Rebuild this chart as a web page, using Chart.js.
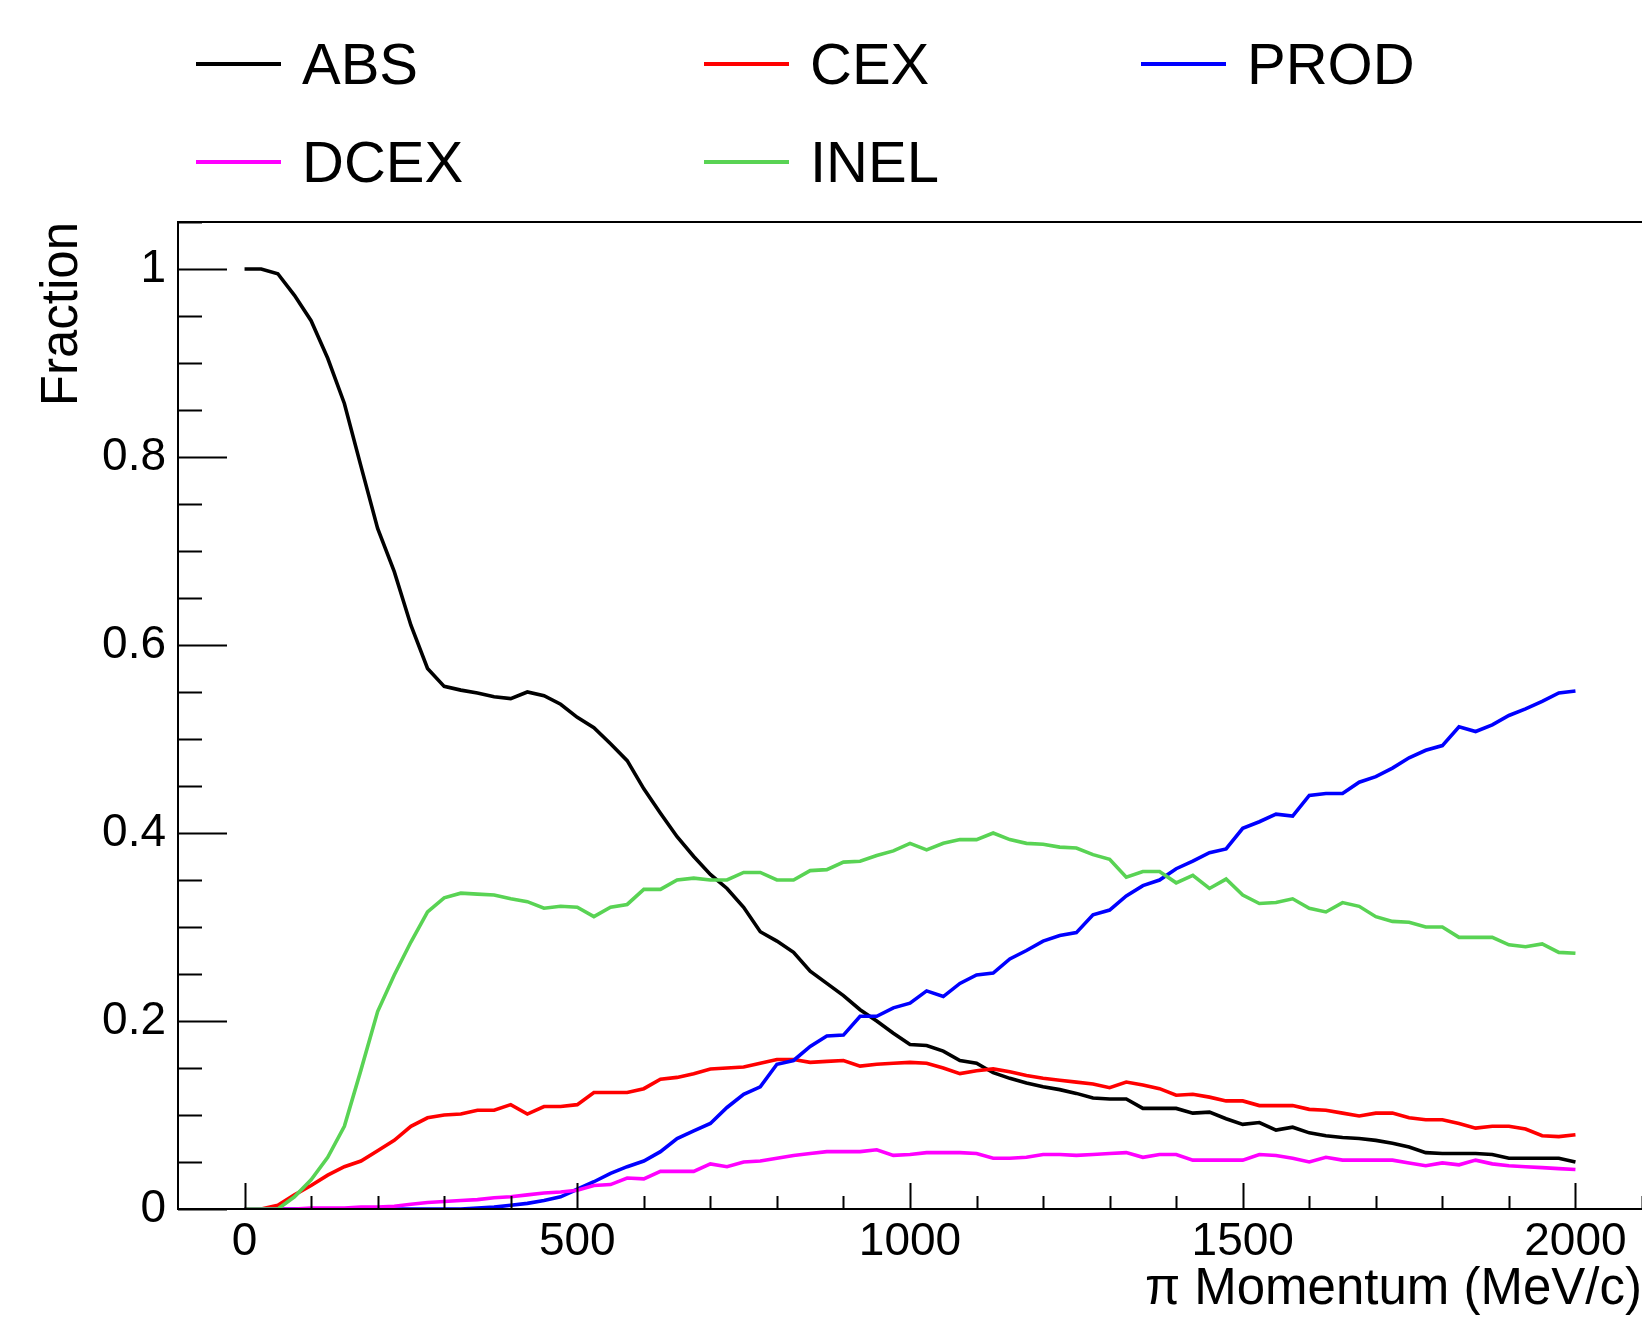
<!DOCTYPE html>
<html>
<head>
<meta charset="utf-8">
<title>Fraction vs pi momentum</title>
<script src="https://cdn.jsdelivr.net/npm/chart.js@4.4.1/dist/chart.umd.min.js"></script>
<style>
  html, body { margin: 0; padding: 0; background: #fff; overflow: hidden; }
  #wrap { position: relative; width: 1642px; height: 1321px; }
  #chart { position: absolute; left: 0; top: 0; }
  .leg-item { position: absolute; height: 58px; display: flex; align-items: center; }
  .leg-line { width: 85px; height: 4px; }
  .leg-text { position: absolute; font-family: "Liberation Sans", Arial, sans-serif; font-size: 58px; line-height: 58px; color: #000; white-space: nowrap; }
</style>
</head>
<body>
<div id="wrap">
  <canvas id="chart" width="1642" height="1321"></canvas>
</div>
<script>
// pi momentum (MeV/c), one point every 25 MeV/c
const momentum = [
  0, 25, 50, 75, 100, 125, 150, 175, 200, 225,
  250, 275, 300, 325, 350, 375, 400, 425, 450, 475,
  500, 525, 550, 575, 600, 625, 650, 675, 700, 725,
  750, 775, 800, 825, 850, 875, 900, 925, 950, 975,
  1000, 1025, 1050, 1075, 1100, 1125, 1150, 1175, 1200, 1225,
  1250, 1275, 1300, 1325, 1350, 1375, 1400, 1425, 1450, 1475,
  1500, 1525, 1550, 1575, 1600, 1625, 1650, 1675, 1700, 1725,
  1750, 1775, 1800, 1825, 1850, 1875, 1900, 1925, 1950, 1975,
  2000
];

const absFrac = [
  1.000, 1.000, 0.995, 0.972, 0.945, 0.905, 0.857, 0.790, 0.724, 0.678,
  0.621, 0.575, 0.556, 0.552, 0.549, 0.545, 0.543, 0.550, 0.546, 0.537,
  0.523, 0.512, 0.495, 0.477, 0.447, 0.421, 0.396, 0.375, 0.356, 0.341,
  0.321, 0.295, 0.285, 0.273, 0.253, 0.240, 0.227, 0.212, 0.200, 0.187,
  0.175, 0.174, 0.168, 0.158, 0.155, 0.145, 0.139, 0.134, 0.130, 0.127,
  0.123, 0.118, 0.117, 0.117, 0.107, 0.107, 0.107, 0.102, 0.103, 0.096,
  0.090, 0.092, 0.084, 0.087, 0.081, 0.078, 0.076, 0.075, 0.073, 0.070,
  0.066, 0.060, 0.059, 0.059, 0.059, 0.058, 0.054, 0.054, 0.054, 0.054,
  0.050
];

const cexFrac = [
  0.000, 0.000, 0.004, 0.015, 0.025, 0.036, 0.045, 0.051, 0.062, 0.073,
  0.088, 0.097, 0.100, 0.101, 0.105, 0.105, 0.111, 0.101, 0.109, 0.109,
  0.111, 0.124, 0.124, 0.124, 0.128, 0.138, 0.140, 0.144, 0.149, 0.150,
  0.151, 0.155, 0.159, 0.159, 0.156, 0.157, 0.158, 0.152, 0.154, 0.155,
  0.156, 0.155, 0.150, 0.144, 0.147, 0.149, 0.146, 0.142, 0.139, 0.137,
  0.135, 0.133, 0.129, 0.135, 0.132, 0.128, 0.121, 0.122, 0.119, 0.115,
  0.115, 0.110, 0.110, 0.110, 0.106, 0.105, 0.102, 0.099, 0.102, 0.102,
  0.097, 0.095, 0.095, 0.091, 0.086, 0.088, 0.088, 0.085, 0.078, 0.077,
  0.079
];

const prodFrac = [
  0.000, 0.000, 0.000, 0.000, 0.000, 0.000, 0.000, 0.000, 0.000, 0.000,
  0.000, 0.000, 0.000, 0.000, 0.001, 0.002, 0.004, 0.006, 0.009, 0.013,
  0.021, 0.029, 0.038, 0.045, 0.051, 0.061, 0.075, 0.083, 0.091, 0.108,
  0.122, 0.130, 0.154, 0.158, 0.173, 0.184, 0.185, 0.205, 0.205, 0.214,
  0.219, 0.232, 0.226, 0.240, 0.249, 0.251, 0.266, 0.275, 0.285, 0.291,
  0.294, 0.313, 0.318, 0.333, 0.344, 0.350, 0.362, 0.370, 0.379, 0.383,
  0.405, 0.412, 0.420, 0.418, 0.440, 0.442, 0.442, 0.454, 0.460, 0.469,
  0.480, 0.488, 0.493, 0.513, 0.508, 0.515, 0.525, 0.532, 0.540, 0.549,
  0.551
];

const dcexFrac = [
  0.000, 0.000, 0.000, 0.000, 0.001, 0.001, 0.001, 0.002, 0.002, 0.003,
  0.005, 0.007, 0.008, 0.009, 0.010, 0.012, 0.013, 0.015, 0.017, 0.018,
  0.020, 0.025, 0.026, 0.033, 0.032, 0.040, 0.040, 0.040, 0.048, 0.045,
  0.050, 0.051, 0.054, 0.057, 0.059, 0.061, 0.061, 0.061, 0.063, 0.057,
  0.058, 0.060, 0.060, 0.060, 0.059, 0.054, 0.054, 0.055, 0.058, 0.058,
  0.057, 0.058, 0.059, 0.060, 0.055, 0.058, 0.058, 0.052, 0.052, 0.052,
  0.052, 0.058, 0.057, 0.054, 0.050, 0.055, 0.052, 0.052, 0.052, 0.052,
  0.049, 0.046, 0.049, 0.047, 0.052, 0.048, 0.046, 0.045, 0.044, 0.043,
  0.042
];

const inelFrac = [
  0.000, 0.000, 0.000, 0.013, 0.031, 0.055, 0.088, 0.148, 0.210, 0.249,
  0.284, 0.316, 0.331, 0.336, 0.335, 0.334, 0.330, 0.327, 0.320, 0.322,
  0.321, 0.311, 0.321, 0.324, 0.340, 0.340, 0.350, 0.352, 0.350, 0.350,
  0.358, 0.358, 0.350, 0.350, 0.360, 0.361, 0.369, 0.370, 0.376, 0.381,
  0.389, 0.382, 0.389, 0.393, 0.393, 0.400, 0.393, 0.389, 0.388, 0.385,
  0.384, 0.377, 0.372, 0.353, 0.359, 0.359, 0.347, 0.355, 0.341, 0.351,
  0.334, 0.325, 0.326, 0.330, 0.320, 0.316, 0.326, 0.322, 0.311, 0.306,
  0.305, 0.300, 0.300, 0.289, 0.289, 0.289, 0.281, 0.279, 0.282, 0.273,
  0.272
];

const seriesNames = ["ABS", "CEX", "PROD", "DCEX", "INEL"];
const seriesValues = [absFrac, cexFrac, prodFrac, dcexFrac, inelFrac];
const seriesColors = ["#000000", "#ff0000", "#0000ff", "#ff00ff", "#59d354"];

const yTickValues = [0, 0.2, 0.4, 0.6, 0.8, 1];
const xTickValues = [0, 500, 1000, 1500, 2000];

// legend (ROOT style, 3 columns)
const legendCols = [196, 704, 1141];
const legendRows = [64, 162];
const wrap = document.getElementById("wrap");
seriesNames.forEach(function (name, i) {
  const item = document.createElement("div");
  item.className = "leg-item";
  item.style.left = legendCols[i % 3] + "px";
  item.style.top = (legendRows[Math.floor(i / 3)] - 29) + "px";
  const line = document.createElement("div");
  line.className = "leg-line";
  line.style.background = seriesColors[i];
  const text = document.createElement("span");
  text.className = "leg-text";
  text.style.left = "106px";
  text.textContent = name;
  item.appendChild(line);
  item.appendChild(text);
  wrap.appendChild(item);
});

// frame (left/top/bottom, right side is off the canvas) + inward ticks like ROOT
const rootFrame = {
  id: "rootFrame",
  afterDraw(chart) {
    const ctx = chart.ctx;
    const a = chart.chartArea;
    const x = chart.scales.x;
    const y = chart.scales.y;
    ctx.save();
    ctx.strokeStyle = "#000";
    ctx.lineWidth = 2;
    ctx.beginPath();
    ctx.moveTo(chart.width + 5, a.top);
    ctx.lineTo(a.left, a.top);
    ctx.lineTo(a.left, a.bottom);
    ctx.lineTo(chart.width + 5, a.bottom);
    for (let v = 0; v <= 2100; v += 100) {
      const px = Math.round(x.getPixelForValue(v)) + 0.5;
      const len = v % 500 === 0 ? 26 : 13;
      ctx.moveTo(px, a.bottom);
      ctx.lineTo(px, a.bottom - len);
    }
    for (let i = 0; i <= 21; i++) {
      const py = Math.round(y.getPixelForValue(i * 0.05)) + 0.5;
      const len = i % 4 === 0 ? 49 : 24;
      ctx.moveTo(a.left, py);
      ctx.lineTo(a.left + len, py);
    }
    ctx.stroke();
    ctx.restore();
  }
};

Chart.defaults.font.family = '"Liberation Sans", Arial, sans-serif';
Chart.defaults.color = "#000";

const datasets = seriesNames.map(function (name, i) {
  return {
    label: name,
    data: momentum.map(function (m, j) { return { x: m, y: seriesValues[i][j] }; }),
    borderColor: seriesColors[i],
    backgroundColor: seriesColors[i],
    borderWidth: 3.6,
    pointRadius: 0,
    tension: 0,
    fill: false,
    order: seriesNames.length - i
  };
});

new Chart(document.getElementById("chart").getContext("2d"), {
  type: "line",
  data: { datasets: datasets },
  options: {
    responsive: false,
    animation: false,
    devicePixelRatio: 1,
    layout: { padding: { top: 222, right: 0, bottom: 0, left: 0 } },
    plugins: { legend: { display: false }, tooltip: { enabled: false } },
    scales: {
      x: {
        type: "linear",
        min: -100,
        max: 2100,
        afterFit: function (s) { s.height = 112; },
        afterBuildTicks: function (s) { s.ticks = xTickValues.map(function (v) { return { value: v }; }); },
        grid: { display: false, drawTicks: false },
        border: { display: false },
        ticks: {
          padding: 6,
          maxRotation: 0,
          autoSkip: false,
          font: { size: 46 },
          callback: function (v) { return String(v); }
        },
        title: {
          display: true,
          text: "π Momentum (MeV/c)",
          align: "end",
          font: { size: 51 },
          padding: { top: 0, bottom: 0 }
        }
      },
      y: {
        type: "linear",
        min: 0,
        max: 1.05,
        afterFit: function (s) { s.width = 178; },
        afterBuildTicks: function (s) { s.ticks = yTickValues.map(function (v) { return { value: v }; }); },
        grid: { display: false, drawTicks: false },
        border: { display: false },
        ticks: {
          padding: 12,
          font: { size: 46 },
          callback: function (v) { return v === 0 || v === 1 ? String(v) : v.toFixed(1); }
        },
        title: {
          display: true,
          text: "Fraction",
          align: "end",
          font: { size: 51 },
          padding: { top: 32, bottom: 0 }
        }
      }
    }
  },
  plugins: [rootFrame]
});
</script>
</body>
</html>
